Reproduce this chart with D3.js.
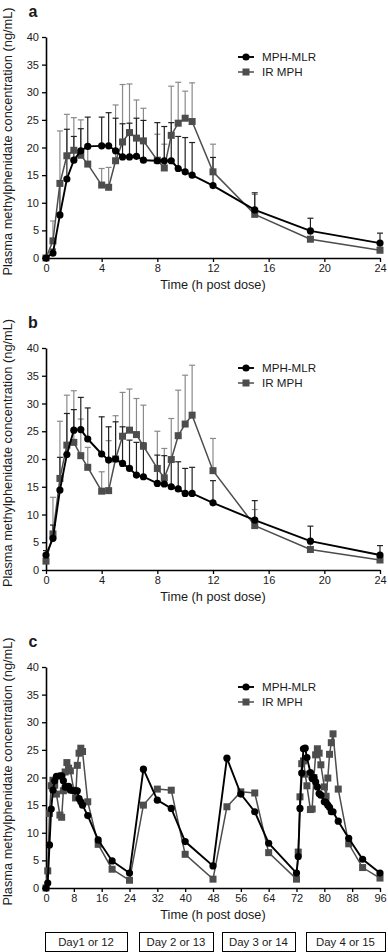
<!DOCTYPE html>
<html>
<head>
<meta charset="utf-8">
<script src="https://cdn.jsdelivr.net/npm/d3@7"></script>
<style>
body { margin: 0; background: #fff; }
svg text { font-family: "Liberation Sans", Arial, sans-serif; fill: #1a1a1a; }
</style>
</head>
<body>
<svg width="388" height="952"></svg>
<script>
// sampling times (h post dose), same for panel a and b
var times = [0, 0.5, 1, 1.5, 2, 2.5, 3, 4, 4.5, 5, 5.5, 6, 6.5, 7, 8, 8.5, 9, 9.5, 10, 10.5, 12, 15, 19, 24];

// panel a : day 1 (mean, SD)
var mlrA   = [0, 0.9, 7.8, 14.3, 17.7, 19.4, 20.2, 20.3, 20.3, 19.4, 18.3, 18.3, 18.4, 17.7, 17.6, 17.6, 17.6, 16.2, 15.6, 15.0, 13.1, 8.7, 4.9, 2.7];
var mlrSdA = [0, 0.7, 6.2, 9.0, 4.3, 4.0, 5.3, 5.2, 6.0, 5.9, 6.0, 6.1, 6.9, 7.2, 6.9, 6.2, 6.9, 5.8, 6.2, 5.9, 5.1, 3.1, 2.3, 1.8];
var irA    = [0, 3.1, 13.5, 18.5, 19.5, 18.6, 17.0, 13.2, 12.8, 17.6, 21.0, 22.7, 21.7, 21.2, 17.7, 16.3, 22.2, 24.4, 25.3, 24.7, 15.6, 7.9, 3.4, 1.4];
var irSdA  = [0, 3.6, 9.5, 7.5, 5.9, 6.4, 3.5, 3.0, 3.6, 10.1, 10.4, 8.8, 6.9, 5.9, 4.7, 4.3, 8.9, 7.4, 4.9, 7.0, 5.0, 3.6, 1.6, 0.6];

// panel b : day 4 (mean, SD)
var mlrB   = [2.7, 5.7, 14.4, 20.8, 25.2, 25.3, 23.6, 20.9, 19.8, 20.0, 19.2, 18.3, 17.1, 16.8, 15.6, 15.5, 15.0, 14.6, 13.8, 13.8, 12.1, 9.0, 5.2, 2.7];
var mlrSdB = [0.8, 2.4, 5.9, 7.4, 3.7, 5.8, 5.6, 6.7, 6.0, 6.7, 6.6, 5.1, 5.9, 6.1, 5.1, 5.1, 4.6, 4.9, 4.5, 4.7, 4.0, 3.5, 2.7, 1.7];
var irB    = [1.6, 6.5, 16.5, 22.5, 23.0, 20.6, 18.5, 14.2, 14.3, 20.0, 24.1, 25.2, 24.4, 22.3, 18.3, 16.6, 19.9, 24.2, 26.3, 27.9, 17.9, 8.0, 3.7, 1.8];
var irSdB  = [0.9, 6.6, 10.3, 9.0, 9.3, 6.6, 3.6, 3.5, 9.0, 7.8, 7.9, 7.4, 6.5, 7.4, 6.7, 5.3, 7.4, 8.2, 8.8, 9.0, 5.8, 2.9, 1.3, 0.7];

// panel c : days 2 and 3 (troughs/peaks between the full profiles)
var timesMid = [28, 32, 36, 40, 48, 52, 56, 60, 64];
var mlrMid   = [21.5, 15.9, 14.4, 8.4, 4.0, 23.5, 17.0, 13.8, 8.1];
var irMid    = [15.0, 17.9, 17.7, 6.1, 1.6, 14.7, 17.4, 17.2, 6.4];

var yTicks = [0, 5, 10, 15, 20, 25, 30, 35, 40];
var xTicksDay = [0, 4, 8, 12, 16, 20, 24];
var xTicksAll = [0, 8, 16, 24, 32, 40, 48, 56, 64, 72, 80, 88, 96];
var seriesNames = ["MPH-MLR", "IR MPH"];
var dayLabels = ["Day1 or 12", "Day 2 or 13", "Day 3 or 14", "Day 4 or 15"];

var svg = d3.select("svg"),
    left = 46, right = 380,
    mlrColor = "#000", irColor = "#4d4d4d", irBarColor = "#8a8a8a";

function rows(t, v, sd, shift) {
  return t.map(function(d, i) { return {t: d + shift, v: v[i], sd: sd ? sd[i] : 0}; });
}

var panels = [
  {letter: "a", top: 37, bottom: 258, xmax: 24, ticks: xTicksDay, bars: true,
   mlr: rows(times, mlrA, mlrSdA, 0), ir: rows(times, irA, irSdA, 0)},
  {letter: "b", top: 348, bottom: 570, xmax: 24, ticks: xTicksDay, bars: true,
   mlr: rows(times, mlrB, mlrSdB, 0), ir: rows(times, irB, irSdB, 0)},
  {letter: "c", top: 667, bottom: 888, xmax: 96, ticks: xTicksAll, bars: false,
   mlr: rows(times, mlrA, null, 0).concat(rows(timesMid, mlrMid, null, 0), rows(times, mlrB, null, 72)),
   ir: rows(times, irA, null, 0).concat(rows(timesMid, irMid, null, 0), rows(times, irB, null, 72))}
];

panels.forEach(function(p) {
  var x = d3.scaleLinear().domain([0, p.xmax]).range([left, right]),
      y = d3.scaleLinear().domain([0, 40]).range([p.bottom, p.top]);
  var g = svg.append("g");

  // axes
  var xa = g.append("g").attr("transform", "translate(0," + p.bottom + ")")
      .call(d3.axisBottom(x).tickValues(p.ticks).tickSize(4).tickSizeOuter(0).tickPadding(2));
  var ya = g.append("g").attr("transform", "translate(" + left + ",0)")
      .call(d3.axisLeft(y).tickValues(yTicks).tickSize(4).tickSizeOuter(0).tickPadding(3));
  [xa, ya].forEach(function(a) {
    a.select(".domain").attr("stroke", "#000").attr("stroke-width", 1.6);
    a.selectAll(".tick line").attr("stroke", "#000").attr("stroke-width", 1.3);
    a.selectAll(".tick text").attr("font-size", "11px").attr("fill", "#1a1a1a")
      .attr("font-family", "Liberation Sans, Arial, sans-serif");
  });

  g.append("text").attr("x", (left + right) / 2).attr("y", p.bottom + 31)
    .attr("text-anchor", "middle").attr("font-size", "12.7px").text("Time (h post dose)");
  g.append("text")
    .attr("transform", "translate(12," + ((p.top + p.bottom) / 2 - 6) + ") rotate(-90)")
    .attr("text-anchor", "middle").attr("font-size", "12.8px")
    .text("Plasma methylphenidate concentration (ng/mL)");
  g.append("text").attr("x", 33).attr("y", p.top - 20).attr("text-anchor", "middle")
    .attr("font-size", "16px").attr("font-weight", "bold").text(p.letter);

  // error bars (upper SD only)
  if (p.bars) {
    [[p.ir, irBarColor], [p.mlr, "#222"]].forEach(function(s) {
      var eb = g.append("g").attr("stroke", s[1]).attr("stroke-width", 1.2);
      eb.selectAll("line.v").data(s[0].filter(function(d) { return d.sd > 0; })).enter()
        .append("line").attr("class", "v")
        .attr("x1", function(d) { return x(d.t); }).attr("x2", function(d) { return x(d.t); })
        .attr("y1", function(d) { return y(d.v); }).attr("y2", function(d) { return y(d.v + d.sd); });
      eb.selectAll("line.c").data(s[0].filter(function(d) { return d.sd > 0; })).enter()
        .append("line").attr("class", "c")
        .attr("x1", function(d) { return x(d.t) - 3; }).attr("x2", function(d) { return x(d.t) + 3; })
        .attr("y1", function(d) { return y(d.v + d.sd); }).attr("y2", function(d) { return y(d.v + d.sd); });
    });
  }

  var line = d3.line().x(function(d) { return x(d.t); }).y(function(d) { return y(d.v); });
  g.append("path").datum(p.ir).attr("d", line).attr("fill", "none")
    .attr("stroke", irColor).attr("stroke-width", 1.5);
  g.append("g").selectAll("rect").data(p.ir).enter().append("rect")
    .attr("x", function(d) { return x(d.t) - 3.5; }).attr("y", function(d) { return y(d.v) - 3.5; })
    .attr("width", 7).attr("height", 7).attr("fill", irColor);
  g.append("path").datum(p.mlr).attr("d", line).attr("fill", "none")
    .attr("stroke", mlrColor).attr("stroke-width", 1.9);
  g.append("g").selectAll("circle").data(p.mlr).enter().append("circle")
    .attr("cx", function(d) { return x(d.t); }).attr("cy", function(d) { return y(d.v); })
    .attr("r", 3.6).attr("fill", mlrColor);

  // legend
  var lg = g.append("g").attr("transform", "translate(0," + (p.top + 20) + ")");
  seriesNames.forEach(function(name, i) {
    var yy = i * 15;
    lg.append("line").attr("x1", 238).attr("x2", 254).attr("y1", yy).attr("y2", yy)
      .attr("stroke", i ? irColor : mlrColor).attr("stroke-width", i ? 1.5 : 1.9);
    if (i) lg.append("rect").attr("x", 242.5).attr("y", yy - 3.5).attr("width", 7).attr("height", 7).attr("fill", irColor);
    else lg.append("circle").attr("cx", 246).attr("cy", yy).attr("r", 3.6).attr("fill", mlrColor);
    lg.append("text").attr("x", 262).attr("y", yy + 4).attr("font-size", "11.6px").text(name);
  });

  // day boxes under the multi-day panel
  if (p.xmax === 96) {
    var boxes = [[45, 82], [139, 74], [222, 73], [306, 79]];
    dayLabels.forEach(function(lab, i) {
      g.append("rect").attr("x", boxes[i][0] + 0.5).attr("y", 932.5).attr("width", boxes[i][1])
        .attr("height", 19).attr("fill", "none").attr("stroke", "#000").attr("stroke-width", 1);
      g.append("text").attr("x", boxes[i][0] + boxes[i][1] / 2).attr("y", 946)
        .attr("text-anchor", "middle").attr("font-size", "11.4px").text(lab);
    });
  }
});
</script>
</body>
</html>
